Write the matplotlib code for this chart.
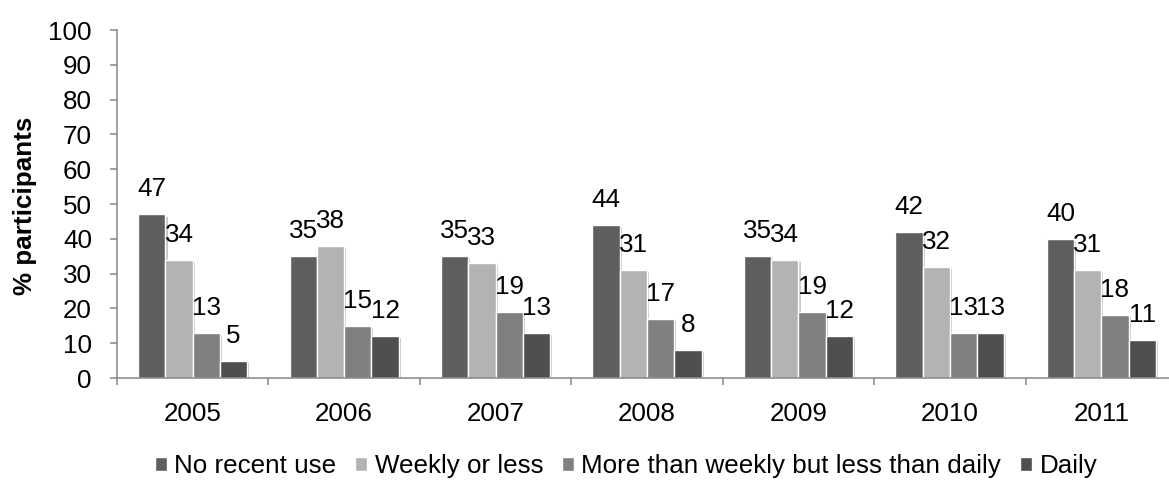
import numpy as np
import matplotlib
matplotlib.use("Agg")
import matplotlib.pyplot as plt
import matplotlib.patheffects as pe
from matplotlib.patches import Patch

plt.rcParams['font.family'] = ['Liberation Sans', 'DejaVu Sans']

years = ["2005", "2006", "2007", "2008", "2009", "2010", "2011"]
series = ["No recent use", "Weekly or less",
          "More than weekly but less than daily", "Daily"]
no_recent = [47, 35, 35, 44, 35, 42, 40]
weekly = [34, 38, 33, 31, 34, 32, 31]
more_than_weekly = [13, 15, 19, 17, 19, 13, 18]
daily = [5, 12, 13, 8, 12, 13, 11]
colors = ["#5f5f5f", "#b3b3b3", "#808080", "#4f4f4f"]

values = [no_recent, weekly, more_than_weekly, daily]
fs = 18.7

fig = plt.figure(figsize=(11.69, 4.8), dpi=100)
# axis is cropped on the right in the original
ax = fig.add_axes([117 / 1169, 102 / 480, 1060 / 1169, 348 / 480])

x = np.arange(len(years))
w = 0.18
shadow = [pe.SimplePatchShadow(offset=(1.5, -1.5), alpha=0.25), pe.Normal()]
for i, (vals, c) in enumerate(zip(values, colors)):
    pos = x + (i - 1.5) * w
    bars = ax.bar(pos, vals, width=w, color=c, edgecolor="white", linewidth=1)
    for b in bars:
        b.set_path_effects(shadow)
    for px, v in zip(pos, vals):
        ax.annotate(str(v), (px, v), xytext=(0, 13), textcoords="offset points",
                    ha="center", va="baseline", fontsize=fs)

ax.set_xlim(-0.5, len(years) - 0.5)
ax.set_ylim(0, 100)
ax.set_yticks(np.arange(0, 101, 10))
ax.tick_params(axis="y", labelsize=fs, length=5, width=1.1, color="#868686", pad=13)
ax.set_xticks(x)
ax.set_xticklabels(years)
ax.set_xticks(np.arange(-0.5, len(years), 1), minor=True)
ax.tick_params(axis="x", which="major", length=0, labelsize=fs, pad=17)
ax.tick_params(axis="x", which="minor", length=5, width=1.1, color="#868686")

for s in ["top", "right"]:
    ax.spines[s].set_visible(False)
for s in ["left", "bottom"]:
    ax.spines[s].set_color("#868686")
    ax.spines[s].set_linewidth(1.1)

fig.text(25 / 1169, 1 - 206 / 480, "% participants", rotation=90, fontsize=fs,
         fontweight="bold", ha="center", va="center")

handles = [Patch(facecolor=c, edgecolor="white") for c in colors]
fig.legend(handles, series, loc="center", bbox_to_anchor=(626 / 1169, 1 - 466 / 480),
           ncol=4, frameon=False, fontsize=fs, handlelength=0.45, handleheight=0.45,
           handletextpad=0.3, columnspacing=0.72, borderpad=0, borderaxespad=0)

fig.savefig("out.png", dpi=100)
